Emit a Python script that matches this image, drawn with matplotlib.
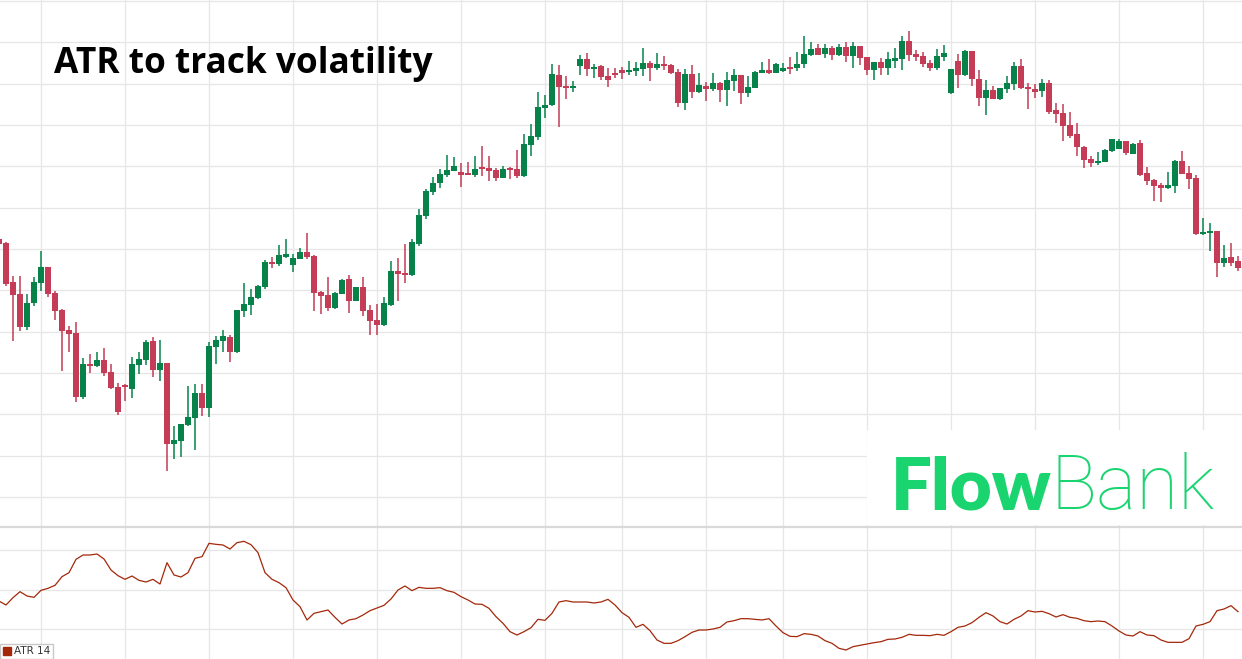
import matplotlib
matplotlib.use("Agg")
import matplotlib.pyplot as plt
from matplotlib.patches import Patch, Rectangle
import numpy as np

# daily candles, values (arbitrary price units)
opens = [261, 257, 218, 206, 173, 197, 217, 233, 207, 190,
         170, 167, 103, 135, 134, 140, 128, 113, 114, 111,
         135, 140, 159, 130, 137, 56, 59, 75, 82, 107,
         92, 153, 159, 163, 148, 189, 195, 202, 213, 238,
         236, 243, 235, 241, 248, 244, 208, 205, 192, 206,
         221, 199, 213, 190, 180, 175, 195, 229, 227, 225,
         256, 284, 308, 317, 325, 329, 328, 327, 325, 332,
         332, 330, 322, 332, 331, 324, 355, 363, 392, 395,
         425, 413, 412, 434, 441, 431, 434, 424, 427, 430,
         428, 429, 431, 437, 432, 436, 435, 428, 397, 426,
         408, 414, 411, 417, 410, 419, 425, 407, 412, 427,
         430, 427, 429, 433, 432, 436, 445, 452, 446, 452,
         445, 453, 444, 454, 443, 430, 438, 432, 439, 441,
         459, 446, 444, 437, 432, 443, 407, 439, 425, 449,
         421, 402, 410, 401, 411, 416, 434, 413, 411, 409,
         417, 390, 387, 375, 366, 353, 341, 337, 338, 349,
         351, 359, 346, 357, 327, 320, 315, 312, 314, 339,
         327, 322, 266, 267, 269, 237, 243, 239]
highs = [262, 258, 224, 224, 206, 223, 249, 233, 209, 191,
         174, 178, 142, 146, 148, 152, 136, 117, 116, 143,
         148, 160, 163, 160, 137, 74, 76, 114, 116, 116,
         158, 164, 170, 165, 190, 217, 211, 215, 240, 243,
         255, 261, 246, 252, 267, 245, 209, 223, 208, 221,
         225, 213, 223, 195, 196, 203, 239, 242, 256, 261,
         291, 311, 323, 331, 345, 343, 337, 338, 344, 354,
         344, 332, 334, 333, 350, 366, 376, 408, 405, 436,
         435, 424, 419, 445, 447, 436, 435, 432, 432, 433,
         439, 438, 452, 439, 447, 444, 436, 431, 431, 435,
         427, 418, 427, 418, 428, 431, 425, 424, 429, 438,
         441, 437, 437, 443, 448, 464, 458, 456, 456, 454,
         456, 458, 458, 454, 443, 438, 442, 448, 452, 464,
         469, 450, 448, 440, 451, 455, 431, 446, 450, 449,
         430, 420, 414, 412, 424, 438, 441, 417, 416, 421,
         420, 397, 396, 388, 377, 354, 344, 348, 351, 361,
         361, 359, 357, 360, 333, 321, 317, 328, 340, 349,
         334, 325, 282, 277, 269, 255, 257, 244]
lows = [254, 214, 159, 169, 170, 194, 209, 203, 180, 129,
        148, 98, 101, 127, 133, 124, 111, 85, 99, 102,
        126, 135, 123, 119, 29, 41, 43, 74, 50, 84,
        83, 136, 148, 138, 147, 183, 185, 201, 211, 232,
        234, 242, 228, 241, 241, 189, 186, 189, 191, 206,
        187, 199, 184, 165, 165, 174, 194, 199, 217, 224,
        254, 281, 305, 312, 323, 329, 313, 325, 323, 324,
        319, 319, 322, 321, 322, 323, 344, 360, 382, 394,
        373, 401, 408, 425, 424, 422, 420, 413, 422, 421,
        425, 424, 424, 419, 430, 430, 426, 393, 390, 402,
        407, 399, 409, 398, 394, 409, 396, 403, 412, 427,
        426, 427, 428, 426, 429, 432, 444, 445, 442, 440,
        444, 438, 432, 435, 425, 420, 425, 425, 432, 430,
        439, 439, 433, 429, 430, 439, 406, 412, 424, 414,
        394, 385, 401, 400, 407, 410, 411, 391, 402, 403,
        386, 377, 359, 362, 344, 332, 333, 335, 338, 348,
        351, 345, 346, 324, 315, 299, 298, 311, 307, 326,
        311, 265, 265, 249, 223, 233, 234, 229]
closes = [256, 216, 205, 173, 197, 218, 233, 206, 189, 169,
          166, 103, 136, 134, 140, 127, 112, 88, 113, 136,
          141, 158, 130, 137, 56, 60, 76, 83, 107, 92,
          154, 160, 164, 148, 190, 196, 203, 214, 238, 236,
          245, 246, 242, 248, 243, 207, 204, 192, 207, 220,
          199, 213, 189, 179, 175, 197, 229, 226, 225, 258,
          285, 309, 317, 326, 330, 334, 325, 325, 331, 331,
          329, 322, 331, 330, 324, 356, 364, 393, 395, 426,
          413, 412, 414, 441, 431, 433, 423, 420, 425, 427,
          430, 432, 437, 432, 436, 434, 427, 397, 426, 408,
          415, 411, 417, 410, 420, 425, 407, 413, 428, 430,
          427, 436, 432, 431, 436, 446, 451, 445, 452, 445,
          453, 444, 454, 442, 430, 438, 432, 441, 442, 459,
          445, 443, 436, 432, 444, 447, 431, 425, 449, 421,
          402, 410, 401, 412, 417, 434, 412, 411, 408, 417,
          388, 386, 374, 364, 353, 340, 337, 339, 350, 361,
          359, 347, 356, 325, 319, 314, 312, 315, 339, 326,
          321, 266, 268, 269, 237, 242, 237, 232]
atr14 = [177, 165, 187, 205, 192, 188, 209, 215, 224, 250,
         262, 302, 315, 315, 318, 303, 270, 253, 242, 252,
         239, 234, 242, 228, 292, 255, 249, 262, 305, 310,
         350, 347, 345, 333, 352, 356, 346, 322, 262, 242,
         232, 217, 180, 160, 120, 140, 145, 150, 128, 108,
         120, 124, 135, 148, 156, 164, 183, 210, 222, 208,
         218, 215, 215, 217, 208, 203, 190, 180, 168, 167,
         155, 130, 110, 85, 75, 85, 97, 122, 119, 140,
         174, 178, 174, 174, 174, 171, 174, 182, 165, 142,
         128, 98, 107, 88, 60, 50, 50, 58, 70, 83,
         90, 90, 93, 98, 114, 118, 124, 124, 122, 120,
         124, 102, 82, 71, 70, 79, 77, 72, 58, 50,
         35, 30, 40, 44, 48, 52, 55, 62, 63, 68,
         77, 74, 74, 73, 77, 74, 85, 98, 102, 112,
         128, 142, 132, 115, 108, 122, 132, 148, 144, 146,
         139, 129, 136, 128, 125, 118, 115, 117, 115, 102,
         87, 75, 72, 85, 75, 73, 60, 53, 53, 53,
         64, 102, 107, 115, 148, 153, 163, 145]

# candles where the date grid lines fall
grid_idx = [6, 18, 30, 42, 54, 66, 78, 89, 101, 112, 124, 136, 148, 160, 172]

title = "ATR to track volatility"
atr_label = "ATR 14"

UP = '#07834a'
DOWN = '#c43c56'
ATR_COL = '#a3280a'
GRID = '#e6e6e6'
LOGO = '#1ad470'

W, H = 1242, 659
fig = plt.figure(figsize=(W / 100, H / 100), dpi=100)
ax = fig.add_axes([0, 133 / H, 1, 526 / H])
ax2 = fig.add_axes([0, 0, 1, 132 / H])

x = np.arange(len(opens))
o = np.array(opens)
c = np.array(closes)
cols = np.where(c >= o, UP, DOWN)

ax.vlines(x, lows, highs, colors=cols, lw=1.1, zorder=2)
ax.bar(x, np.maximum(np.abs(c - o), 1.6), bottom=np.minimum(o, c),
       width=0.72, color=cols, lw=0, zorder=3)

ax2.plot(x, atr14, color=ATR_COL, lw=0.9)

for a in (ax, ax2):
    a.set_xlim(1 / 7, 1243 / 7)
    a.set_xticks(grid_idx)
    a.grid(True, color=GRID, lw=0.9)
    a.set_axisbelow(True)
    a.tick_params(length=0, labelbottom=False, labelleft=False)
    for s in a.spines.values():
        s.set_visible(False)

ax.set_ylim(-26, 500)
ax.set_yticks(np.linspace(3, 499, 13))
ax2.set_ylim(3, 399)
ax2.set_yticks([93, 211.5, 330])
ax2.spines['top'].set_visible(True)
ax2.spines['top'].set_color('#d9d9d9')
ax2.spines['top'].set_linewidth(1.6)

# white patch behind the logo
ax.add_patch(Rectangle((867 / W, (H - 525) / H), (W - 867) / W, 95 / H,
                       transform=fig.transFigure, facecolor='white',
                       edgecolor='none', zorder=1))

fig.text(54 / W, 1 - 73 / H, title, fontsize=25.4, fontweight='bold',
         family='Open Sans', va='baseline', ha='left')

fig.text(891 / W, 1 - 509 / H, "Flow", fontsize=52, fontweight='heavy',
         family='Lato', color=LOGO, va='baseline', ha='left')
fig.text(1051 / W, 1 - 509 / H, "Bank", fontsize=55, fontweight='light',
         family='Roboto', color=LOGO, va='baseline', ha='left')

leg = ax2.legend(handles=[Patch(color=ATR_COL, label=atr_label)],
                 loc='lower left', bbox_to_anchor=(0, 0), borderaxespad=0,
                 fontsize=7.5, handlelength=0.8, handleheight=0.8,
                 handletextpad=0.3, borderpad=0.25, fancybox=False,
                 framealpha=1, edgecolor='#c8c8c8')
for t in leg.get_texts():
    t.set_color('#333333')

fig.savefig('out.png', dpi=100, facecolor='white')
